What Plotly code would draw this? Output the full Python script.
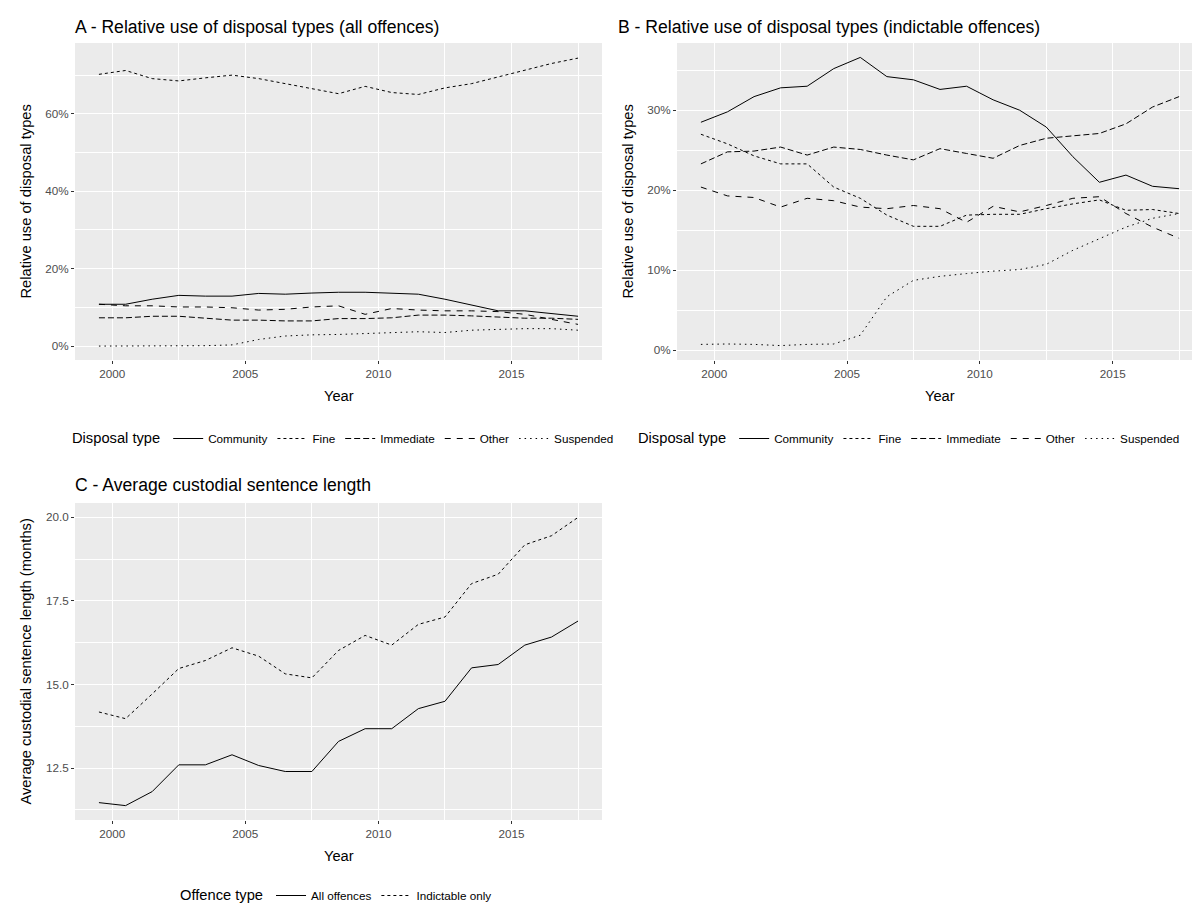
import plotly.graph_objects as go

# ---------------- data ----------------
years = [1999.5, 2000.5, 2001.5, 2002.5, 2003.5, 2004.5, 2005.5, 2006.5, 2007.5,
         2008.5, 2009.5, 2010.5, 2011.5, 2012.5, 2013.5, 2014.5, 2015.5, 2016.5, 2017.5]

disposal_types = ["Community", "Fine", "Immediate", "Other", "Suspended"]

# Panel A - all offences (%)
a_community = [10.8, 10.8, 12.1, 13.1, 12.9, 12.9, 13.6, 13.4, 13.7, 13.9, 13.9, 13.6, 13.4, 12.1, 10.6, 9.1, 9.1, 8.4, 7.7]
a_fine      = [70.2, 71.2, 69.1, 68.5, 69.3, 70.0, 69.1, 67.8, 66.5, 65.2, 67.1, 65.5, 65.0, 66.7, 67.8, 69.5, 71.2, 73.0, 74.4]
a_immediate = [7.3, 7.3, 7.7, 7.7, 7.2, 6.7, 6.7, 6.5, 6.5, 7.1, 7.1, 7.3, 8.0, 8.0, 7.8, 7.5, 7.2, 7.2, 6.9]
a_other     = [10.8, 10.4, 10.4, 10.1, 10.1, 9.9, 9.3, 9.5, 10.1, 10.4, 8.2, 9.7, 9.3, 9.1, 9.1, 8.9, 8.2, 6.9, 5.6]
a_suspended = [0.0, 0.0, 0.0, 0.0, 0.1, 0.3, 1.7, 2.6, 2.9, 3.0, 3.2, 3.5, 3.7, 3.5, 4.1, 4.3, 4.5, 4.5, 4.1]

# Panel B - indictable offences (%)
b_community = [28.5, 29.8, 31.7, 32.8, 33.0, 35.2, 36.6, 34.2, 33.8, 32.6, 33.0, 31.3, 30.0, 27.9, 24.2, 21.0, 21.9, 20.5, 20.2]
b_fine      = [27.0, 25.8, 24.3, 23.3, 23.3, 20.4, 19.0, 16.9, 15.5, 15.5, 16.9, 17.0, 17.0, 17.7, 18.3, 18.8, 17.5, 17.6, 17.1]
b_immediate = [23.3, 24.8, 24.9, 25.4, 24.4, 25.4, 25.1, 24.4, 23.8, 25.2, 24.6, 24.0, 25.6, 26.5, 26.8, 27.1, 28.3, 30.4, 31.7]
b_other     = [20.4, 19.3, 19.1, 17.9, 19.0, 18.7, 17.9, 17.7, 18.1, 17.7, 16.0, 18.0, 17.3, 18.1, 19.0, 19.2, 17.1, 15.4, 14.0]
b_suspended = [0.75, 0.8, 0.75, 0.6, 0.75, 0.8, 1.9, 6.7, 8.75, 9.25, 9.6, 9.9, 10.1, 10.75, 12.5, 14.0, 15.4, 16.5, 17.1]

# Panel C - average custodial sentence length (months)
offence_types = ["All offences", "Indictable only"]
c_all        = [11.47, 11.38, 11.8, 12.6, 12.6, 12.9, 12.58, 12.4, 12.4, 13.3, 13.68, 13.68, 14.28, 14.5, 15.5, 15.6, 16.18, 16.42, 16.9]
c_indictable = [14.18, 13.98, 14.72, 15.48, 15.72, 16.1, 15.85, 15.32, 15.2, 16.02, 16.47, 16.18, 16.8, 17.02, 18.02, 18.3, 19.18, 19.45, 20.0]

x_ticks = [2000, 2005, 2010, 2015]
x_minor = [2002.5, 2007.5, 2012.5, 2017.5]
pct_ticks_a = [0, 20, 40, 60]
pct_minor_a = [10, 30, 50, 70]
pct_ticks_b = [0, 10, 20, 30]
pct_minor_b = [5, 15, 25, 35]
c_ticks = [12.5, 15.0, 17.5, 20.0]
c_minor = [11.25, 13.75, 16.25, 18.75]

# ---------------- layout helpers ----------------
W, H = 1200, 904
FONT = "Liberation Sans, Arial, sans-serif"


def fx(p):
    return p / W


def fy(p):
    return 1 - p / H


dashes = {
    "Community": "solid",
    "Fine": "3px,3px",
    "Immediate": "6px,3px",
    "Other": "6px,6px",
    "Suspended": "1.5px,4px",
}
c_dashes = {"All offences": "solid", "Indictable only": "3px,3px"}

fig = go.Figure()

a_series = [a_community, a_fine, a_immediate, a_other, a_suspended]
b_series = [b_community, b_fine, b_immediate, b_other, b_suspended]

for name, vals in zip(disposal_types, a_series):
    fig.add_trace(go.Scatter(x=years, y=vals, mode="lines", name=name,
                             line=dict(color="black", width=1, dash=dashes[name]),
                             xaxis="x", yaxis="y", legend="legend"))
for name, vals in zip(disposal_types, b_series):
    fig.add_trace(go.Scatter(x=years, y=vals, mode="lines", name=name,
                             line=dict(color="black", width=1, dash=dashes[name]),
                             xaxis="x2", yaxis="y2", legend="legend2"))
for name, vals in zip(offence_types, [c_all, c_indictable]):
    fig.add_trace(go.Scatter(x=years, y=vals, mode="lines", name=name,
                             line=dict(color="black", width=1, dash=c_dashes[name]),
                             xaxis="x3", yaxis="y3", legend="legend3"))

common = dict(showgrid=True, gridcolor="white", gridwidth=1.1, zeroline=False,
              showline=False, ticks="outside", ticklen=3, tickcolor="#333333",
              tickwidth=1, tickfont=dict(family=FONT, size=11.7, color="#4D4D4D"),
              fixedrange=True)

# pixel boxes
A_X = (67, 594)
B_X = (669, 1195)
TOP_Y = (35, 352)
BOT_Y = (495, 812)

xr = [1998.6, 2018.4]

fig.update_layout(
    width=W, height=H,
    margin=dict(l=0, r=0, t=0, b=0),
    paper_bgcolor="white",
    plot_bgcolor="#EBEBEB",
    font=dict(family=FONT, color="black"),
    xaxis=dict(common, domain=[fx(A_X[0]), fx(A_X[1])], anchor="y", range=xr,
               tickvals=x_ticks, ticktext=[str(v) for v in x_ticks],
               minor=dict(tickvals=x_minor, showgrid=True, gridcolor="white", gridwidth=0.5)),
    yaxis=dict(common, domain=[fy(TOP_Y[1]), fy(TOP_Y[0])], anchor="x", range=[-3.6, 78.3],
               tickvals=pct_ticks_a, ticktext=[f"{v}%" for v in pct_ticks_a],
               minor=dict(tickvals=pct_minor_a, showgrid=True, gridcolor="white", gridwidth=0.5)),
    xaxis2=dict(common, domain=[fx(B_X[0]), fx(B_X[1])], anchor="y2", range=xr,
                tickvals=x_ticks, ticktext=[str(v) for v in x_ticks],
                minor=dict(tickvals=x_minor, showgrid=True, gridcolor="white", gridwidth=0.5)),
    yaxis2=dict(common, domain=[fy(TOP_Y[1]), fy(TOP_Y[0])], anchor="x2", range=[-1.2, 38.4],
                tickvals=pct_ticks_b, ticktext=[f"{v}%" for v in pct_ticks_b],
                minor=dict(tickvals=pct_minor_b, showgrid=True, gridcolor="white", gridwidth=0.5)),
    xaxis3=dict(common, domain=[fx(A_X[0]), fx(A_X[1])], anchor="y3", range=xr,
                tickvals=x_ticks, ticktext=[str(v) for v in x_ticks],
                minor=dict(tickvals=x_minor, showgrid=True, gridcolor="white", gridwidth=0.5)),
    yaxis3=dict(common, domain=[fy(BOT_Y[1]), fy(BOT_Y[0])], anchor="x3", range=[10.95, 20.43],
                tickvals=c_ticks, ticktext=[f"{v:.1f}" for v in c_ticks],
                minor=dict(tickvals=c_minor, showgrid=True, gridcolor="white", gridwidth=0.5)),
)

leg_common = dict(orientation="h", yanchor="middle", xanchor="left",
                  bgcolor="rgba(0,0,0,0)", itemwidth=30,
                  font=dict(family=FONT, size=11.7, color="black"))

fig.update_layout(
    legend=dict(leg_common, x=fx(62), y=fy(431),
                title=dict(text="Disposal type", side="left",
                           font=dict(family=FONT, size=14.7, color="black"))),
    legend2=dict(leg_common, x=fx(628), y=fy(431),
                 title=dict(text="Disposal type", side="left",
                            font=dict(family=FONT, size=14.7, color="black"))),
    legend3=dict(leg_common, x=fx(170), y=fy(888),
                 title=dict(text="Offence type", side="left",
                            font=dict(family=FONT, size=14.7, color="black"))),
)

annotations = []


def ann(text, x, y, size, angle=0, xanchor="center", color="black"):
    annotations.append(dict(text=text, x=fx(x), y=fy(y), xref="paper", yref="paper",
                            showarrow=False, xanchor=xanchor, yanchor="middle",
                            textangle=angle, font=dict(family=FONT, size=size, color=color)))


# panel titles
ann("A - Relative use of disposal types (all offences)", 65, 19, 17.6, xanchor="left")
ann("B - Relative use of disposal types (indictable offences)", 608, 19, 17.6, xanchor="left")
ann("C - Average custodial sentence length", 65, 477, 17.6, xanchor="left")

# axis titles
ann("Year", (A_X[0] + A_X[1]) / 2, 388, 14.7)
ann("Year", (B_X[0] + B_X[1]) / 2, 388, 14.7)
ann("Year", (A_X[0] + A_X[1]) / 2, 848, 14.7)
ann("Relative use of disposal types", 17, (TOP_Y[0] + TOP_Y[1]) / 2, 14.7, angle=-90)
ann("Relative use of disposal types", 619, (TOP_Y[0] + TOP_Y[1]) / 2, 14.7, angle=-90)
ann("Average custodial sentence length (months)", 17, (BOT_Y[0] + BOT_Y[1]) / 2, 14.7, angle=-90)

fig.update_layout(annotations=annotations)

fig.write_html("out.html")
